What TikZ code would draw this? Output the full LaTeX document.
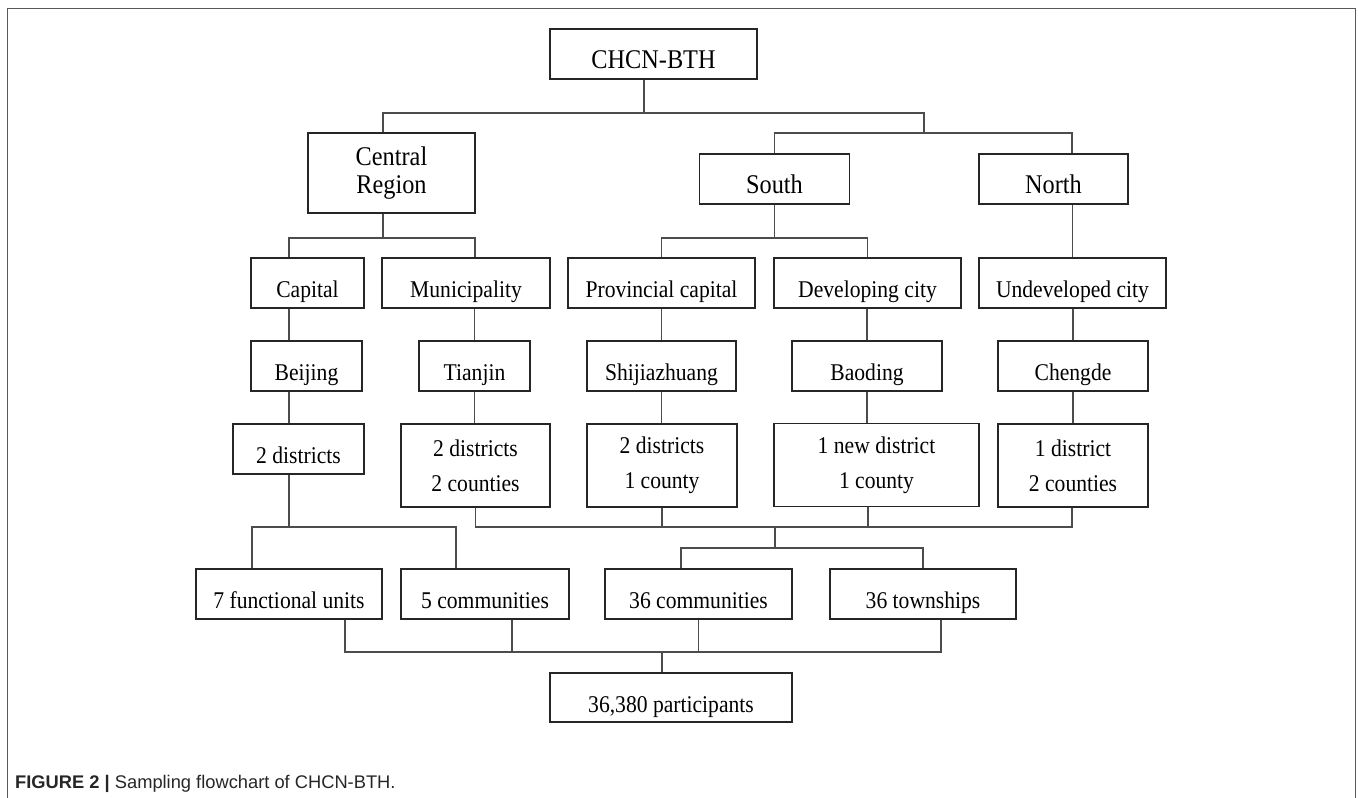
\documentclass[tikz,border=0pt]{standalone}
\usepackage{fontspec}
\setmainfont{Liberation Serif}[FakeStretch=0.9]
\newfontfamily\capfont{Liberation Sans}
\usepackage{tikz}

\tikzset{
	box/.style={draw=black!85, line width=1.7pt, inner sep=0pt, align=center, fill=white},
	bigtxt/.style={font=\fontsize{27}{28}\selectfont},
	smalltxt/.style={font=\fontsize{24}{35}\selectfont},
	oneline/.style={text height=29pt, text depth=0pt},
	link/.style={draw=black!70, line width=1.2pt},
	outline/.style={draw=black!65, line width=1.6pt}
}

\begin{document}
\begin{tikzpicture}[x=1pt, y=-1pt]

\useasboundingbox (0,0) rectangle (1358,798);

%Frame
\draw[outline] (7.5,798) -- (7.5,8.5) -- (1355.5,8.5) -- (1355.5,798);


%Boxes
\node[box, bigtxt, oneline, minimum width=207, minimum height=50] (root) at (653.5,54) {CHCN-BTH};

\node[box, bigtxt, minimum width=167, minimum height=80] (central) at (391.5,173) {Central\\Region};
\node[box, bigtxt, oneline, minimum width=150, minimum height=50] (south) at (774.5,179) {South};
\node[box, bigtxt, oneline, minimum width=149, minimum height=50] (north) at (1053.5,179) {North};

\node[box, smalltxt, oneline, minimum width=113, minimum height=50] (capital) at (307.5,283) {Capital};
\node[box, smalltxt, oneline, minimum width=168, minimum height=50] (munic) at (466,283) {Municipality};
\node[box, smalltxt, oneline, minimum width=187, minimum height=50] (prov) at (661.5,283) {Provincial capital};
\node[box, smalltxt, oneline, minimum width=187, minimum height=50] (devel) at (867.5,283) {Developing city};
\node[box, smalltxt, oneline, minimum width=187, minimum height=50] (undev) at (1072.5,283) {Undeveloped city};

\node[box, smalltxt, oneline, minimum width=111, minimum height=50] (beijing) at (306.5,366) {Beijing};
\node[box, smalltxt, oneline, minimum width=111, minimum height=50] (tianjin) at (474.5,366) {Tianjin};
\node[box, smalltxt, oneline, minimum width=149, minimum height=50] (sjz) at (661.5,366) {Shijiazhuang};
\node[box, smalltxt, oneline, minimum width=150, minimum height=50] (baoding) at (867,366) {Baoding};
\node[box, smalltxt, oneline, minimum width=150, minimum height=50] (chengde) at (1073,366) {Chengde};

\node[box, smalltxt, oneline, minimum width=131, minimum height=50] (bjd) at (298.5,449) {2 districts};
\node[box, smalltxt, minimum width=149, minimum height=83] (tjd) at (475.5,465.5) {2 districts\\2 counties};
\node[box, smalltxt, minimum width=150, minimum height=83] (sjzd) at (662,465.5) {2 districts\\1 county};
\node[box, smalltxt, minimum width=205, minimum height=83] (bdd) at (876.5,465) {1 new district\\1 county};
\node[box, smalltxt, minimum width=150, minimum height=83] (cdd) at (1073,465.5) {1 district\\2 counties};

\node[box, smalltxt, oneline, minimum width=186, minimum height=50] (units) at (289,594) {7 functional units};
\node[box, smalltxt, oneline, minimum width=168, minimum height=50] (bjcomm) at (485,594) {5 communities};
\node[box, smalltxt, oneline, minimum width=187, minimum height=50] (comm) at (698.5,594) {36 communities};
\node[box, smalltxt, oneline, minimum width=186, minimum height=50] (towns) at (923,594) {36 townships};

\node[box, smalltxt, oneline, minimum width=242, minimum height=49] (total) at (671,697.5) {36,380 participants};


%Coordinates
\coordinate (bus1) at (644,113);
\coordinate (bus2) at (924,133);
\coordinate (bus3) at (383,238);
\coordinate (bus4) at (774.5,238);
\coordinate (bus5) at (289,527);
\coordinate (bus6) at (775,527);
\coordinate (bus7) at (775,548);
\coordinate (bus8) at (662,652);


%Lines
\draw[link] ([xshift=-9.5]root.south) -- (bus1);
\draw[link] ([xshift=-8.5]central.north) |- (bus1) -| (bus2);
\draw[link] (south.north) |- (bus2) -| ([xshift=18.5]north.north);

\draw[link] ([xshift=-8.5]central.south) -- (bus3);
\draw[link] ([xshift=-18.5]capital.north) |- (bus3) -| ([xshift=9]munic.north);
\draw[link] (south.south) -- (bus4);
\draw[link] (prov.north) |- (bus4) -| (devel.north);
\draw[link] (undev.north |- north.south) -- (undev.north);

\draw[link] ([xshift=-18.5]capital.south) -- ([xshift=-17.5]beijing.north);
\draw[link] (tianjin.north |- munic.south) -- (tianjin.north);
\draw[link] (sjz.north |- prov.south) -- (sjz.north);
\draw[link] (baoding.north |- devel.south) -- (baoding.north);
\draw[link] (chengde.north |- undev.south) -- (chengde.north);

\draw[link] ([xshift=-17.5]beijing.south) -- ([xshift=-9.5]bjd.north);
\draw[link] (tianjin.south) -- (tianjin.south |- tjd.north);
\draw[link] (sjz.south) -- (sjz.south |- sjzd.north);
\draw[link] (baoding.south) -- (baoding.south |- bdd.north);
\draw[link] (chengde.south) -- (chengde.south |- cdd.north);

\draw[link] ([xshift=-9.5]bjd.south) -- (bus5);
\draw[link] ([xshift=-37]units.north) |- (bus5) -| ([xshift=-29]bjcomm.north);
\draw[link] (tjd.south) |- (bus6) -| ([xshift=-1]cdd.south);
\draw[link] (sjzd.south) -- (sjzd.south |- bus6);
\draw[link] ([xshift=-8.5]bdd.south) -- ([xshift=-8.5]bdd.south |- bus6);
\draw[link] (bus6) -- (bus7);
\draw[link] ([xshift=-17.5]comm.north) |- (bus7) -| (towns.north);

\draw[link] ([xshift=56]units.south) |- (bus8) -| ([xshift=18]towns.south);
\draw[link] ([xshift=27]bjcomm.south) -- ([xshift=27]bjcomm.south |- bus8);
\draw[link] (comm.south) -- (comm.south |- bus8);
\draw[link] (bus8) -- ([xshift=-9]total.north);


% Caption
\node[anchor=base west, inner sep=0pt, text=black!85] (caption) at (15,788) {\capfont\fontsize{18.3}{21}\selectfont\bfseries FIGURE 2 |\mdseries\ Sampling flowchart of CHCN-BTH.};

\end{tikzpicture}
\end{document}
